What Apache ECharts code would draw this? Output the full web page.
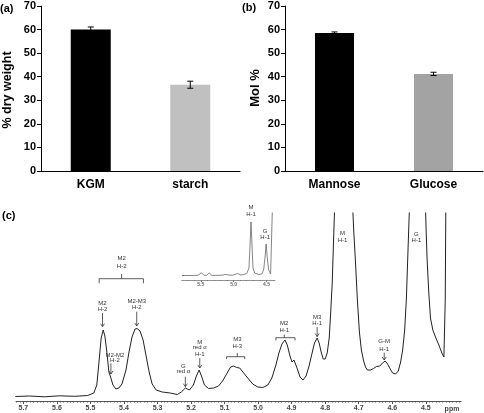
<!DOCTYPE html>
<html><head><meta charset="utf-8">
<script src="https://cdn.jsdelivr.net/npm/echarts@6/dist/echarts.min.js"></script>
<style>html,body{margin:0;padding:0;background:#fff}#c{width:484px;height:413px}</style>
</head><body><div id="c"></div>
<script>
// ---- panel (a) ----
const catA = ['KGM', 'starch'];
const valA = [60.0, 36.6];
const errA = [1.1, 1.5];
// ---- panel (b) ----
const catB = ['Mannose', 'Glucose'];
const valB = [58.5, 41.2];
const errB = [0.5, 0.7];
const barTicks = [0, 10, 20, 30, 40, 50, 60, 70];
// ---- panel (c) main spectrum (ppm, intensity) ----
const specPpm = [5.724,5.682,5.637,5.592,5.547,5.508,5.49,5.481,5.474,5.468,5.462,5.457,5.451,5.445,5.439,5.433,5.424,5.415,5.406,5.394,5.385,5.376,5.367,5.361,5.352,5.343,5.334,5.325,5.316,5.304,5.286,5.262,5.241,5.229,5.217,5.205,5.193,5.184,5.176,5.169,5.16,5.148,5.133,5.118,5.106,5.094,5.082,5.073,5.064,5.055,5.043,5.031,5.016,5.001,4.986,4.971,4.959,4.947,4.938,4.929,4.92,4.913,4.905,4.899,4.893,4.884,4.875,4.866,4.857,4.848,4.839,4.832,4.824,4.818,4.812,4.806,4.8,4.794,4.788,4.784,4.779,4.775,4.771,4.746,4.719,4.715,4.71,4.704,4.698,4.692,4.686,4.68,4.674,4.665,4.656,4.647,4.637,4.629,4.621,4.614,4.606,4.599,4.59,4.582,4.575,4.569,4.563,4.558,4.554,4.55,4.547,4.526,4.502,4.499,4.496,4.491,4.486,4.479,4.47,4.461,4.452,4.446,4.442,4.44];
const specInt = [4.5,5,4.2,5.2,4.7,5.5,8,16,41,63,71,65,49,29,23,16,12,13,17,31,49,64,72,72.5,70,61,45,29,17,11,9,8,6.5,9,13,11,16,25,31,25,16,12.5,13,15,20,27,34,35,33.5,33,28,23,17,14,13.5,16,23,36,48,57,61,56,45,39,41,33,24,21,25,35,48,58,63,58,49,42,42,48,63,86,118,161,201,301,201,171,141,101,69,51,41,34,31,31,32.5,34.5,35,38,40,37,32,28,27,30,39,51,71,101,141,181,206,301,206,171,141,108,83,71,63,56,48,44,101,206];
// ---- inset spectrum ----
const insetPpm = [5.785,5.664,5.543,5.49,5.452,5.407,5.372,5.331,5.24,5.164,5.119,5.073,5.013,4.937,4.891,4.846,4.8,4.766,4.75,4.735,4.72,4.705,4.679,4.619,4.573,4.543,4.52,4.505,4.49,4.467,4.437,4.414,4.402];
const insetInt = [4.5,4.5,4.7,7.2,4.7,4.8,7,4.7,4.6,5,5.5,5,4.8,6.5,5,5.5,6.5,12,35,58,35,12,7,5.5,6,10,24,36,24,10,6,8,90];
const mainTickLabels = [5.7,5.6,5.5,5.4,5.3,5.2,5.1,5.0,4.9,4.8,4.7,4.6,4.5];
const insetTickLabels = [5.5,5.0,4.5];

const minorMain = []; for (let k = 440; k <= 572; k++) minorMain.push(k / 100);
const minorInset = []; for (let k = 44; k <= 57; k++) minorInset.push(k / 10);

const chart = echarts.init(document.getElementById('c'));
const bold = {fontFamily: 'Arial, "Liberation Sans", sans-serif', fontWeight: 'bold', color: '#000'};

function errSeries(xi, yi, vals, errs) {
  return {
    type: 'custom', xAxisIndex: xi, yAxisIndex: yi, z: 5,
    data: vals.map((v, i) => [i, v - errs[i], v + errs[i]]),
    renderItem: function (params, api) {
      const lo = api.coord([api.value(0), api.value(1)]);
      const hi = api.coord([api.value(0), api.value(2)]);
      const st = {stroke: '#000', lineWidth: 1};
      return {type: 'group', children: [
        {type: 'line', shape: {x1: lo[0], y1: lo[1], x2: hi[0], y2: hi[1]}, style: st},
        {type: 'line', shape: {x1: lo[0] - 3, y1: lo[1], x2: lo[0] + 3, y2: lo[1]}, style: st},
        {type: 'line', shape: {x1: hi[0] - 3, y1: hi[1], x2: hi[0] + 3, y2: hi[1]}, style: st}
      ]};
    }
  };
}
function catAxis(gi, cats) {
  return {type: 'category', gridIndex: gi, data: cats,
    axisLine: {lineStyle: {color: '#000', width: 1}},
    axisTick: {length: 4, lineStyle: {color: '#000'}},
    axisLabel: Object.assign({fontSize: 12, margin: 8}, bold)};
}
function valAxis(gi) {
  return {type: 'value', gridIndex: gi, min: 0, max: 70, interval: 10,
    axisLine: {show: true, lineStyle: {color: '#000'}},
    axisTick: {show: true, length: 4, lineStyle: {color: '#000'}},
    splitLine: {show: false},
    axisLabel: Object.assign({fontSize: 11, margin: 5}, bold)};
}
const grey = '#555';
const MIN = 4.395, MAX = 5.722;
const option = {
  animation: false,
  grid: [
    {left: 41, top: 6, width: 199, height: 165},
    {left: 285, top: 6, width: 198, height: 165},
    {left: 16, top: 213, width: 445, height: 188},
    {left: 181.7, top: 213, width: 93.3, height: 67}
  ],
  xAxis: [
    catAxis(0, catA), catAxis(1, catB),
    {type: 'value', gridIndex: 2, inverse: true, min: MIN, max: MAX, position: 'bottom',
      splitLine: {show: false},
      axisLine: {lineStyle: {color: grey, width: 1}},
      axisTick: {customValues: mainTickLabels, length: 3, lineStyle: {color: grey}},
      axisLabel: {customValues: mainTickLabels, formatter: v => v.toFixed(1), fontSize: 7, fontWeight: 'bold', color: '#444', margin: 4, fontFamily: 'Arial, sans-serif'}},
    {type: 'value', gridIndex: 2, inverse: true, min: MIN, max: MAX, position: 'bottom',
      splitLine: {show: false}, axisLine: {show: false},
      axisTick: {customValues: minorMain, length: 1.5, lineStyle: {color: grey}},
      axisLabel: {show: false}},
    {type: 'value', gridIndex: 3, inverse: true, min: 4.37, max: 5.79, position: 'bottom',
      splitLine: {show: false},
      axisLine: {lineStyle: {color: '#777', width: 0.8}},
      axisTick: {customValues: insetTickLabels, length: 2, lineStyle: {color: '#777'}},
      axisLabel: {customValues: insetTickLabels, formatter: v => v.toFixed(1), fontSize: 5, fontWeight: 'bold', color: '#666', margin: 2, fontFamily: 'Arial, sans-serif'}},
    {type: 'value', gridIndex: 3, inverse: true, min: 4.37, max: 5.79, position: 'bottom',
      splitLine: {show: false}, axisLine: {show: false},
      axisTick: {customValues: minorInset, length: 1, lineStyle: {color: '#777'}},
      axisLabel: {show: false}}
  ],
  yAxis: [
    valAxis(0), valAxis(1),
    {type: 'value', gridIndex: 2, min: 0, max: 188, show: false},
    {type: 'value', gridIndex: 3, min: 0, max: 67, show: false}
  ],
  series: [
    {type: 'bar', xAxisIndex: 0, yAxisIndex: 0, barWidth: 40,
      data: valA.map((v, i) => ({value: v, itemStyle: {color: ['#000', '#c0c0c0'][i]}}))},
    errSeries(0, 0, valA, errA),
    {type: 'bar', xAxisIndex: 1, yAxisIndex: 1, barWidth: 39,
      data: valB.map((v, i) => ({value: v, itemStyle: {color: ['#000', '#a3a3a3'][i]}}))},
    errSeries(1, 1, valB, errB),
    {type: 'line', xAxisIndex: 2, yAxisIndex: 2, showSymbol: false, symbol: 'none', clip: true,
      lineStyle: {color: '#222', width: 1}, data: specPpm.map((p, i) => [p, specInt[i]])},
    {type: 'line', xAxisIndex: 4, yAxisIndex: 3, showSymbol: false, symbol: 'none', clip: true,
      lineStyle: {color: '#666', width: 0.8}, data: insetPpm.map((p, i) => [p, insetInt[i]])}
  ]
};
chart.setOption(option);

// ---- annotations (in data coordinates of panel c) ----
const arrows = [
  {lines: ['M2', 'H-2'], ppm: 5.464, textI: [97.7, 91.7], arrow: [88, 74.3]},
  {lines: ['M2-M3', 'H-2'], ppm: 5.362, textI: [99.3, 93.7], arrow: [89.3, 75]},
  {lines: ['M2-M2', 'H-2'], ppm: 5.427, textI: [46, 40.3], arrowPpm: 5.439, arrow: [37.7, 27]},
  {lines: ['G', 'red α'], ppm: 5.223, textI: [35, 29.3], arrowPpm: 5.217, arrow: [24.3, 14.3]},
  {lines: ['M', 'red α', 'H-1'], ppm: 5.174, textI: [58.7, 53.3, 46.7], arrow: [43, 33]},
  {lines: ['M3', 'H-1'], ppm: 4.824, textI: [83.7, 77.7], arrow: [74, 64.5]},
  {lines: ['G-M', 'H-1'], ppm: 4.624, textI: [59.3, 52], arrow: [48.3, 41]},
  {lines: ['M', 'H-1'], ppm: 4.748, textI: [167.7, 160.3]},
  {lines: ['G', 'H-1'], ppm: 4.528, textI: [167, 160.3]}
];
const brackets = [
  {lines: ['M2', 'H-2'], from: 5.474, to: 5.342, mid: 5.407, textI: [143, 135], barI: 122.3, endI: 117.7, midI: 127},
  {lines: ['M3', 'H-3'], from: 5.094, to: 5.04, mid: 5.062, textI: [61.7, 55], barI: 44.3, endI: 42, midI: 48},
  {lines: ['M2', 'H-1'], from: 4.947, to: 4.89, mid: 4.922, textI: [77.7, 71], barI: 63.3, endI: 60.5, midI: 66.5}
];
const insetLabels = [
  {lines: ['M', 'H-1'], ppm: 4.735, textI: [73, 66]},
  {lines: ['G', 'H-1'], ppm: 4.52, textI: [49, 42.5]}
];
const P = (x, y) => chart.convertToPixel({xAxisIndex: 2, yAxisIndex: 2}, [x, y]);
const PI = (x, y) => chart.convertToPixel({xAxisIndex: 4, yAxisIndex: 3}, [x, y]);
const annFont = {fontSize: 6, fontFamily: 'Arial, "Liberation Sans", sans-serif', fill: '#333', align: 'center', verticalAlign: 'middle'};
const g = [];
const ln = (a, b, c) => ({type: 'line', shape: {x1: a[0], y1: a[1], x2: b[0], y2: b[1]}, style: {stroke: c || '#333', lineWidth: 0.8}, z: 10});
function txt(lines, ppm, ys, conv) {
  lines.forEach((t, i) => { const p = conv(ppm, ys[i]); g.push({type: 'text', x: p[0], y: p[1], style: Object.assign({text: t}, annFont), z: 10}); });
}
arrows.forEach(a => {
  txt(a.lines, a.ppm, a.textI, P);
  if (a.arrow) {
    const ap = a.arrowPpm || a.ppm;
    const t = P(ap, a.arrow[0]), b = P(ap, a.arrow[1]);
    g.push(ln(t, b));
    g.push({type: 'polyline', shape: {points: [[b[0] - 2, b[1] - 3], b, [b[0] + 2, b[1] - 3]]}, style: {stroke: '#333', lineWidth: 0.8, fill: null}, z: 10});
  }
});
brackets.forEach(b => {
  txt(b.lines, b.mid, b.textI, P);
  const l = P(b.from, b.barI), r = P(b.to, b.barI);
  g.push(ln(l, r));
  g.push(ln(l, P(b.from, b.endI)));
  g.push(ln(r, P(b.to, b.endI)));
  g.push(ln(P(b.mid, b.barI), P(b.mid, b.midI)));
});
insetLabels.forEach(a => txt(a.lines, a.ppm, a.textI, PI));

// panel letters, axis titles, unit
const ff = 'Arial, "Liberation Sans", sans-serif';
g.push({type: 'text', x: 0, y: 9, style: {text: '(a)', font: 'bold 11px ' + ff, fill: '#000', verticalAlign: 'middle'}});
g.push({type: 'text', x: 242, y: 8, style: {text: '(b)', font: 'bold 11px ' + ff, fill: '#000', verticalAlign: 'middle'}});
g.push({type: 'text', x: 2, y: 216, style: {text: '(c)', font: 'bold 11px ' + ff, fill: '#000', verticalAlign: 'middle'}});
g.push({type: 'text', x: 8, y: 90, rotation: Math.PI / 2, style: {text: '% dry weight', font: 'bold 12.5px ' + ff, fill: '#000', align: 'center', verticalAlign: 'middle'}});
g.push({type: 'text', x: 255, y: 88, rotation: Math.PI / 2, style: {text: 'Mol %', font: 'bold 13px ' + ff, fill: '#000', align: 'center', verticalAlign: 'middle'}});
const pp = P(4.44, 0);
g.push({type: 'text', x: 452, y: pp[1] + 8, style: {text: 'ppm', font: 'bold 7px ' + ff, fill: '#444', align: 'center', verticalAlign: 'middle'}});
chart.setOption({graphic: g});
</script></body></html>
